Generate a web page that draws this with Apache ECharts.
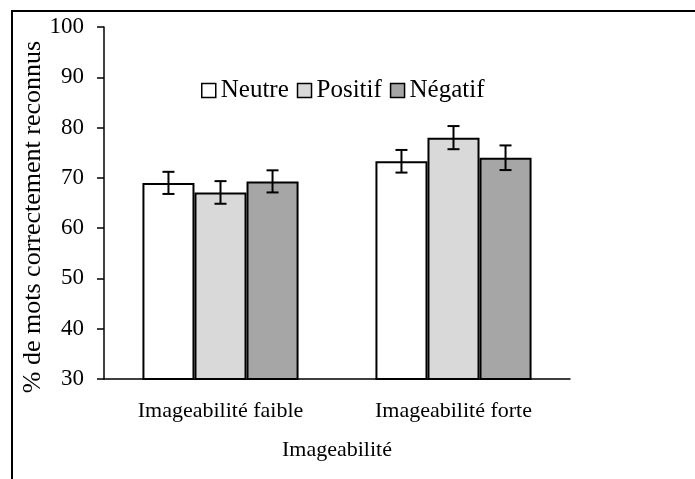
<!DOCTYPE html>
<html>

<head>
    <meta charset="UTF-8">
    <script src="https://cdn.jsdelivr.net/npm/echarts@6.0.0/dist/echarts.min.js"></script>
    <style>
        html, body { margin: 0; padding: 0; background: #fff; }
    </style>
</head>

<body>
    <div id="main" style="width: 695px; height: 479px;"></div>
    <script>
        // catégories et séries
        var categories = ['Imageabilité faible', 'Imageabilité forte'];
        var seriesNames = ['Neutre', 'Positif', 'Négatif'];
        var neutre = [69.0, 73.3];
        var positif = [67.1, 78.0];
        var negatif = [69.3, 74.0];
        // erreurs (±)
        var errNeutre = [2.2, 2.25];
        var errPositif = [2.25, 2.3];
        var errNegatif = [2.2, 2.45];
        var yTicks = [30, 40, 50, 60, 70, 80, 90, 100];

        var font = 'Liberation Serif';
        var colors = ['#ffffff', '#d9d9d9', '#a6a6a6'];
        var means = [neutre, positif, negatif];
        var errs = [errNeutre, errPositif, errNegatif];
        var catGap = 0.33;

        // données des barres d'erreur : [catégorie, série, bas, haut]
        var errData = [];
        for (var s = 0; s < 3; s++) {
            for (var c = 0; c < categories.length; c++) {
                errData.push([c, s, means[s][c] - errs[s][c], means[s][c] + errs[s][c]]);
            }
        }

        var myChart = echarts.init(document.getElementById('main'));

        var barSeries = seriesNames.map(function (name, i) {
            return {
                name: name,
                type: 'bar',
                data: means[i],
                barGap: '0%',
                barCategoryGap: (catGap * 100) + '%',
                itemStyle: { color: colors[i], borderColor: '#000', borderWidth: 2 }
            };
        });

        var option = {
            animation: false,
            backgroundColor: '#fff',
            textStyle: { fontFamily: font, color: '#000' },
            graphic: [{
                type: 'rect',
                shape: { x: 12, y: 11, width: 720, height: 520 },
                style: { fill: 'none', stroke: '#000', lineWidth: 2 },
                z: 100
            }],
            legend: {
                left: 196,
                top: 73,
                icon: 'rect',
                itemWidth: 14,
                itemHeight: 14,
                itemGap: 8,
                itemStyle: { borderWidth: 1.5, borderColor: '#000' },
                textStyle: { fontFamily: font, fontSize: 25, color: '#000' },
                data: seriesNames
            },
            grid: { left: 104, right: 125, top: 27, bottom: 100 },
            xAxis: {
                type: 'category',
                data: categories,
                name: 'Imageabilité',
                nameLocation: 'middle',
                nameGap: 60,
                nameTextStyle: { fontFamily: font, fontSize: 22, color: '#000' },
                axisLine: { lineStyle: { color: '#000', width: 1.5 } },
                axisTick: { inside: true, length: 6, lineStyle: { color: '#000', width: 1.5 } },
                axisLabel: { fontFamily: font, fontSize: 22, color: '#000', margin: 21 }
            },
            yAxis: {
                type: 'value',
                min: yTicks[0],
                max: yTicks[yTicks.length - 1],
                interval: 10,
                name: '% de mots correctement reconnus',
                nameLocation: 'middle',
                nameGap: 58,
                nameMoveOverlap: false,
                nameTextStyle: { fontFamily: font, fontSize: 26, color: '#000', padding: [0, 28, 0, 0] },
                axisLine: { show: true, lineStyle: { color: '#000', width: 1.5 } },
                axisTick: { show: true, length: 7, lineStyle: { color: '#000', width: 1.5 } },
                axisLabel: { fontFamily: font, fontSize: 23, color: '#000', margin: 20 },
                splitLine: { show: false }
            },
            series: barSeries.concat([{
                type: 'custom',
                name: 'erreur',
                data: errData,
                z: 10,
                encode: { x: 0, y: [2, 3] },
                renderItem: function (params, api) {
                    var cat = api.value(0);
                    var s = api.value(1);
                    var lo = api.coord([cat, api.value(2)]);
                    var hi = api.coord([cat, api.value(3)]);
                    var bw = api.size([1, 0])[0] * (1 - catGap) / 3;
                    var x = lo[0] + (s - 1) * bw;
                    var cap = 6;
                    var st = { stroke: '#000', lineWidth: 2, fill: null };
                    return {
                        type: 'group',
                        children: [
                            { type: 'line', shape: { x1: x, y1: hi[1], x2: x, y2: lo[1] }, style: st },
                            { type: 'line', shape: { x1: x - cap, y1: hi[1], x2: x + cap, y2: hi[1] }, style: st },
                            { type: 'line', shape: { x1: x - cap, y1: lo[1], x2: x + cap, y2: lo[1] }, style: st }
                        ]
                    };
                }
            }])
        };

        myChart.setOption(option);
    </script>
</body>

</html>
